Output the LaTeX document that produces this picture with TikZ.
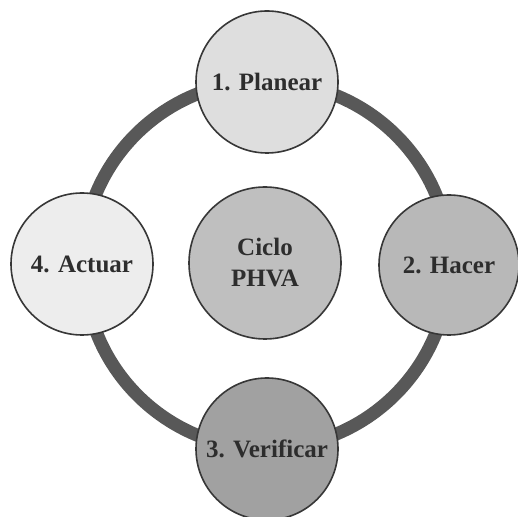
\documentclass[tikz,border=0pt]{standalone}
\usepackage{fontspec}
\setmainfont{Liberation Serif}
\usepackage{xcolor}
\usepackage{tikz}
\usetikzlibrary{backgrounds}

\definecolor{ringgray}{RGB}{88,88,88}
\definecolor{edgegray}{RGB}{55,55,55}
\definecolor{textgray}{RGB}{45,45,45}

\begin{document}
\begin{tikzpicture}[
    x=1pt, y=1pt,
    stage/.style={circle, draw=edgegray, line width=1.6pt, minimum size=142pt,
        inner sep=0pt, align=center, text=textgray,
        font=\fontsize{25}{31}\selectfont\bfseries},
    ring/.style={draw=ringgray, line width=13pt}
]
\useasboundingbox (0,0) rectangle (518,516);

\node[stage, fill=black!13] (plan) at (267,434) {1. Planear};
\node[stage, fill=black!28, minimum size=140pt] (hacer) at (449,251) {2. Hacer};
\node[stage, fill=black!37] (verif) at (267,67) {3. Verificar};
\node[stage, fill=black!7] (actuar) at (82,252) {4. Actuar};
\node[stage, fill=black!25, minimum size=152pt] (ciclo) at (265,253) {Ciclo\\PHVA};

\begin{scope}[on background layer]
\draw[ring] (plan.center) arc[start angle=90, end angle=0, radius=183pt];
\draw[ring] (hacer.center) arc[start angle=0, end angle=-90, radius=183pt];
\draw[ring] (verif.center) arc[start angle=270, end angle=180, radius=183pt];
\draw[ring] (actuar.center) arc[start angle=180, end angle=90, radius=183pt];
\end{scope}
\end{tikzpicture}
\end{document}
